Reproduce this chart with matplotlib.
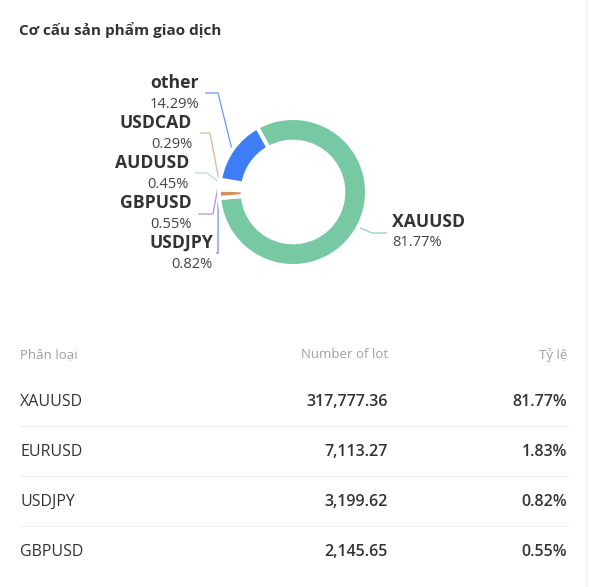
"""Donut chart of traded products plus the summary table under it."""
import numpy as np
import matplotlib
matplotlib.use('Agg')
import matplotlib.pyplot as plt

plt.rcParams['font.family'] = ['Open Sans', 'DejaVu Sans']

title = 'Cơ cấu sản phẩm giao dịch'

# donut slices, clockwise from the start angle
names = ['XAUUSD', 'EURUSD', 'USDJPY', 'GBPUSD', 'AUDUSD', 'USDCAD', 'other']
shares = [81.77, 1.83, 0.82, 0.55, 0.45, 0.29, 14.29]
colors = ['#76c9a3', '#d98e5c', '#4d74d8', '#8c84c4', '#a9cfcb', '#d9a27c', '#3d7df5']

# table under the chart
headers = ['Phân loại', 'Number of lot', 'Tỷ lệ']
table_names = ['XAUUSD', 'EURUSD', 'USDJPY', 'GBPUSD']
table_lots = [317777.36, 7113.27, 3199.62, 2145.65]
table_shares = [81.77, 1.83, 0.82, 0.55]

W, H = 589, 587
cx, cy, R = 293, 192, 74   # donut centre / radius in pixels

fig = plt.figure(figsize=(W / 100, H / 100), dpi=100, facecolor='white')

# overlay axes in pixel coordinates (y down)
ax = fig.add_axes([0, 0, 1, 1])
ax.set_xlim(0, W)
ax.set_ylim(H, 0)
ax.axis('off')
ax.patch.set_alpha(0)

# donut in its own square axes
pax = fig.add_axes([(cx - R) / W, 1 - (cy + R) / H, 2 * R / W, 2 * R / H])
wedges, _ = pax.pie(shares, colors=colors, startangle=119, counterclock=False,
                    radius=1, wedgeprops=dict(width=0.32, edgecolor='white',
                                              linewidth=2.9))
pax.set_xlim(-1, 1)
pax.set_ylim(-1, 1)
pax.axis('off')

# label layout: text x, name y, pct y, align, elbow point, line end
layout = {
    'other':  (199, 83, 104, 'right', (218, 93), (205, 93)),
    'USDCAD': (192, 123, 144, 'right', (210, 133), (200, 133)),
    'AUDUSD': (189, 163, 184, 'right', (207, 173), (195, 173)),
    'GBPUSD': (192, 203, 224, 'right', (213, 214), (198, 214)),
    'USDJPY': (213, 243, 264, 'right', (218, 253), (216, 253)),
    'XAUUSD': (392, 222, 243, 'left', (372, 233), (387, 233)),
}

for w, name, share, col in zip(wedges, names, shares, colors):
    if name not in layout:
        continue
    tx, ny, py, ha, elbow, end = layout[name]
    mid = np.deg2rad((w.theta1 + w.theta2) / 2)
    r0 = R + 1
    sx, sy = cx + r0 * np.cos(mid), cy - r0 * np.sin(mid)
    ax.plot([sx, elbow[0], end[0]], [sy, elbow[1], end[1]], color=col,
            lw=0.9, alpha=0.8, solid_capstyle='butt')
    ax.text(tx, ny, name, ha=ha, va='center', fontsize=12.7, fontweight='bold',
            color='#333333')
    ax.text(tx, py, f'{share:.2f}%', ha=ha, va='center', fontsize=10.5,
            color='#444444')

# title
ax.text(19, 30, title, ha='left', va='center', fontsize=11, fontweight='bold',
        color='#333333')

# table
col_x = [20, 388, 567]
col_ha = ['left', 'right', 'right']
for x, ha, h in zip(col_x, col_ha, headers):
    ax.text(x, 355, h, ha=ha, va='center', fontsize=9.5, color='#a0a0a0')

row_y = [402, 452, 502, 552]
for i, (y, n, lot, sh) in enumerate(zip(row_y, table_names, table_lots, table_shares)):
    ax.text(col_x[0], y, n, ha='left', va='center', fontsize=11.5, color='#333333')
    ax.text(col_x[1], y, f'{lot:,.2f}', ha='right', va='center', fontsize=11.5,
            fontweight='semibold', color='#333333')
    ax.text(col_x[2], y, f'{sh:.2f}%', ha='right', va='center', fontsize=11.5,
            fontweight='semibold', color='#333333')
    if i < len(row_y) - 1:
        ax.plot([20, 568], [y + 23.5, y + 23.5], color='#eeeeee', lw=0.8)

# faint scroll-track edge on the right
ax.plot([586, 586], [0, H], color='#f2f2f2', lw=1)

fig.savefig('out.png', dpi=100, facecolor='white')
